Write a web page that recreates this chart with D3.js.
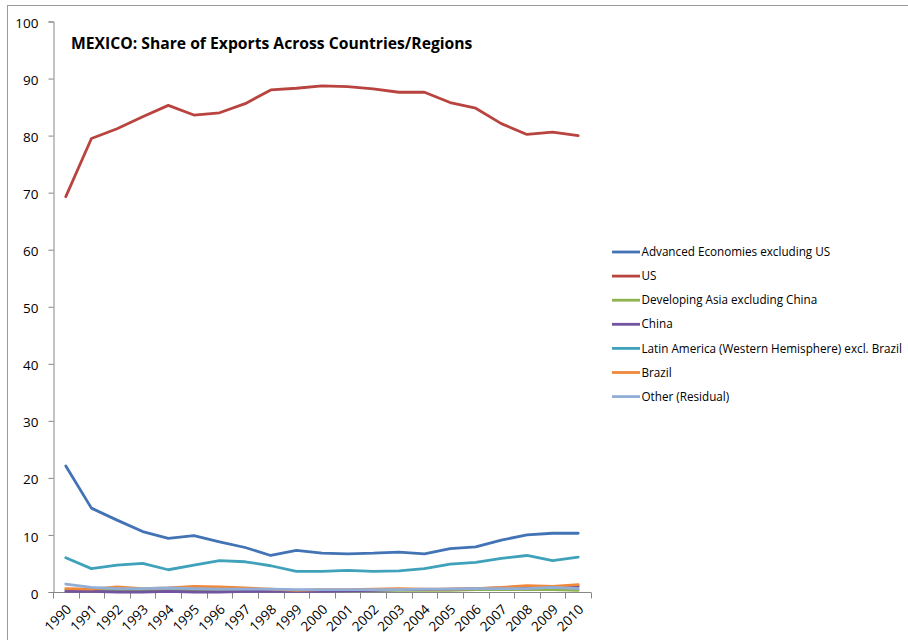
<!DOCTYPE html>
<html>
<head>
<meta charset="utf-8">
<script src="https://cdn.jsdelivr.net/npm/d3@7"></script>
<style>
  html, body { margin: 0; padding: 0; background: #fff; }
  svg { display: block; }
  text { font-family: "Open Sans", "Liberation Sans", sans-serif; fill: #000; }
</style>
</head>
<body>
<svg id="chart" width="908" height="640"></svg>
<script>
// Mexico: share of exports by destination, percent of total
const years = ["1990","1991","1992","1993","1994","1995","1996","1997","1998","1999","2000",
               "2001","2002","2003","2004","2005","2006","2007","2008","2009","2010"];

const advancedExUS = [22.1,14.7,12.6,10.6,9.4,9.9,8.8,7.8,6.4,7.3,6.8,6.7,6.8,7.0,6.7,7.6,7.9,9.1,10.0,10.3,10.3];
const us           = [69.3,79.5,81.2,83.3,85.3,83.6,84.0,85.6,88.0,88.3,88.7,88.6,88.2,87.6,87.6,85.8,84.8,82.1,80.2,80.6,80.0];
const devAsiaExCN  = [0.4,0.3,0.3,0.3,0.3,0.4,0.4,0.3,0.3,0.3,0.3,0.3,0.3,0.3,0.3,0.3,0.4,0.4,0.4,0.4,0.3];
const china        = [0.1,0.1,0.0,0.0,0.1,0.0,0.0,0.1,0.1,0.1,0.1,0.2,0.3,0.4,0.4,0.5,0.6,0.7,0.7,0.9,1.0];
const latAmExBR    = [6.0,4.1,4.7,5.0,3.9,4.7,5.5,5.3,4.6,3.6,3.6,3.8,3.6,3.7,4.1,4.9,5.2,5.9,6.4,5.5,6.1];
const brazil       = [0.6,0.5,0.9,0.6,0.7,1.0,0.9,0.7,0.5,0.3,0.4,0.4,0.5,0.6,0.5,0.5,0.6,0.8,1.1,1.0,1.3];
const other        = [1.4,0.8,0.6,0.6,0.7,0.6,0.5,0.5,0.5,0.4,0.4,0.4,0.4,0.4,0.5,0.5,0.6,0.6,0.6,0.8,0.6];

const yTicks = [0,10,20,30,40,50,60,70,80,90,100];

const series = [
  { name: "Advanced Economies excluding US", values: advancedExUS, color: "#4273B5" },
  { name: "US", values: us, color: "#B9443F" },
  { name: "Developing Asia excluding China", values: devAsiaExCN, color: "#8DB24E" },
  { name: "China", values: china, color: "#7253A0" },
  { name: "Latin America (Western Hemisphere) excl. Brazil", values: latAmExBR, color: "#3FA2BA" },
  { name: "Brazil", values: brazil, color: "#F0883A" },
  { name: "Other (Residual)", values: other, color: "#90AED6" }
];

const svg = d3.select("#chart");

// chart frame (left and top edges fall inside the canvas)
svg.append("rect")
  .attr("x", 7.5).attr("y", 5.5)
  .attr("width", 960).attr("height", 700)
  .attr("fill", "none").attr("stroke", "#9a9a9a").attr("stroke-width", 1);

const plot = { left: 53, right: 591, top: 21.5, bottom: 592 };

const x = d3.scaleBand().domain(years).range([plot.left, plot.right]).padding(0);
const y = d3.scaleLinear().domain([0, 100]).range([plot.bottom, plot.top]);

const axisColor = "#868686";

// y axis
const yAxis = svg.append("g")
  .attr("transform", `translate(${plot.left + 0.5},0)`)
  .call(d3.axisLeft(y).tickValues(yTicks).tickSize(5).tickPadding(10));
yAxis.select(".domain").attr("stroke", axisColor);
yAxis.selectAll(".tick line").attr("stroke", axisColor);
yAxis.selectAll(".tick text")
  .attr("font-size", 13.5)
  .attr("dy", "0.45em")
  .style("font-family", '"Open Sans", "Liberation Sans", sans-serif')
  .attr("fill", "#000");

// x axis: ticks sit between categories
const xAxis = svg.append("g")
  .attr("transform", `translate(0,${plot.bottom + 0.5})`);
xAxis.append("line")
  .attr("x1", plot.left).attr("x2", plot.right)
  .attr("stroke", axisColor);
const boundaries = years.map(d => x(d)).concat([plot.right]);
xAxis.selectAll("line.tick")
  .data(boundaries)
  .join("line")
  .attr("class", "tick")
  .attr("x1", d => Math.round(d) + 0.5).attr("x2", d => Math.round(d) + 0.5)
  .attr("y1", 0).attr("y2", 6)
  .attr("stroke", axisColor);
xAxis.selectAll("text")
  .data(years)
  .join("text")
  .attr("transform", d => `translate(${x(d) + x.bandwidth() / 2 + 3},${14.5}) rotate(-45)`)
  .attr("text-anchor", "end")
  .attr("dy", "0.35em")
  .attr("font-size", 13.5)
  .text(d => d);

// lines
const line = d3.line()
  .x((d, i) => x(years[i]) + x.bandwidth() / 2)
  .y(d => y(d));

svg.append("g")
  .selectAll("path")
  .data(series)
  .join("path")
  .attr("d", d => line(d.values))
  .attr("fill", "none")
  .attr("stroke", d => d.color)
  .attr("stroke-width", 2.8)
  .attr("stroke-linejoin", "round")
  .attr("stroke-linecap", "round");

// title
svg.append("text")
  .attr("x", 71).attr("y", 49)
  .attr("font-size", 15.7)
  .attr("font-weight", "bold")
  .text("MEXICO: Share of Exports Across Countries/Regions");

// legend
const legend = svg.append("g").attr("transform", "translate(612,252)");
const item = legend.selectAll("g")
  .data(series)
  .join("g")
  .attr("transform", (d, i) => `translate(0,${i * 24.1})`);
item.append("line")
  .attr("x1", 0).attr("x2", 28)
  .attr("stroke", d => d.color)
  .attr("stroke-width", 2.8);
item.append("text")
  .attr("x", 29.5).attr("dy", "0.35em")
  .attr("font-size", 11.7)
  .text(d => d.name);
</script>
</body>
</html>
